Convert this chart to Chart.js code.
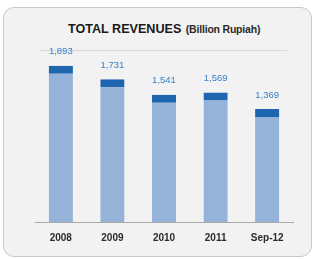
<!DOCTYPE html>
<html>
<head>
<meta charset="utf-8">
<script src="https://cdn.jsdelivr.net/npm/chart.js@4"></script>
<style>
  html, body { margin: 0; padding: 0; background: #fff; }
  #wrap { position: relative; width: 315px; height: 259px; overflow: hidden; }
  #panel {
    position: absolute; left: 3px; top: 7px; width: 307px; height: 248px;
    border: 1px solid #c9c9c9; border-radius: 11px; background: #f2f2f2;
  }
  #title {
    position: absolute; left: 68px; top: 21px; white-space: nowrap;
    font-family: "Liberation Sans", Arial, sans-serif; color: #1a1a1a; line-height: 14px;
  }
  #title b { font-size: 12.6px; }
  #title span { font-size: 10.5px; font-weight: bold; letter-spacing: -0.2px; color: #2a2a2a; }
  #rule { position: absolute; left: 40px; top: 50px; width: 247px; height: 1px; background: #d9d9d9; }
  canvas { position: absolute; left: 0; top: 0; }
</style>
</head>
<body>
<div id="wrap">
  <div id="panel"></div>
  <div id="title"><b>TOTAL REVENUES</b> <span>(Billion Rupiah)</span></div>
  <div id="rule"></div>
  <canvas id="chart" width="315" height="259"></canvas>
</div>
<script>
const categories = ['2008', '2009', '2010', '2011', 'Sep-12'];
const revenues = [1893, 1731, 1541, 1569, 1369];

// draws the value above each bar
const valueLabels = {
    id: 'valueLabels',
    afterDatasetsDraw(chart) {
        const ctx = chart.ctx;
        const meta = chart.getDatasetMeta(0);
        ctx.save();
        ctx.font = '9.5px "Liberation Sans", Arial, sans-serif';
        ctx.fillStyle = '#3a80c5';
        ctx.textAlign = 'center';
        ctx.textBaseline = 'middle';
        meta.data.forEach((bar, i) => {
            ctx.fillText(revenues[i].toLocaleString('en-US'), bar.x, bar.y - 14);
        });
        ctx.restore();
    }
};

new Chart(document.getElementById('chart'), {
    type: 'bar',
    data: {
        labels: categories,
        datasets: [{
            data: revenues,
            backgroundColor: '#95b2d9',
            borderColor: '#1f66b0',
            borderWidth: { top: 8, left: 0, right: 0, bottom: 0 },
            borderSkipped: false,
            categoryPercentage: 1,
            barPercentage: 0.47
        }]
    },
    options: {
        responsive: false,
        animation: false,
        events: [],
        layout: { padding: { left: 35, right: 22, top: 57, bottom: 5 } },
        plugins: { legend: { display: false }, tooltip: { enabled: false } },
        scales: {
            x: {
                grid: { display: false, drawTicks: false },
                border: { display: true, color: '#a8a8a8' },
                ticks: {
                    padding: 10,
                    color: '#2b2b2b',
                    font: { family: '"Liberation Sans", Arial, sans-serif', size: 10, weight: 'bold' }
                }
            },
            y: { display: false, min: 0, max: 2000 }
        }
    },
    plugins: [valueLabels]
});
</script>
</body>
</html>
